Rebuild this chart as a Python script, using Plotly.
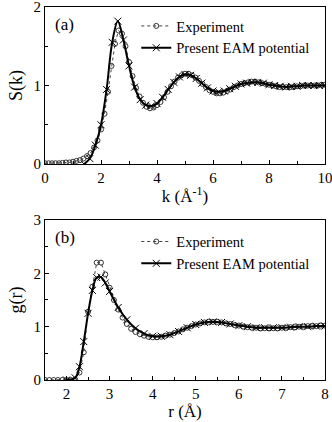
import plotly.graph_objects as go

# ---- (a) structure factor S(k) ----
k_exp = [0.0, 0.125, 0.25, 0.375, 0.5, 0.625, 0.75, 0.875, 1.0, 1.125, 1.25, 1.375,
         1.5, 1.625, 1.75, 1.875, 2.0, 2.125, 2.25, 2.375, 2.5, 2.625, 2.75, 2.875,
         3.0, 3.125, 3.25, 3.375, 3.5, 3.625, 3.75, 3.875, 4.0, 4.125, 4.25, 4.375,
         4.5, 4.625, 4.75, 4.875, 5.0, 5.125, 5.25, 5.375, 5.5, 5.625, 5.75, 5.875,
         6.0, 6.125, 6.25, 6.375, 6.5, 6.625, 6.75, 6.875, 7.0, 7.125, 7.25, 7.375,
         7.5, 7.625, 7.75, 7.875, 8.0, 8.125, 8.25, 8.375, 8.5, 8.625, 8.75, 8.875,
         9.0, 9.125, 9.25, 9.375, 9.5, 9.625, 9.75, 9.875, 10.0]
s_exp = [0.01, 0.01, 0.01, 0.01, 0.01, 0.015, 0.02, 0.02, 0.03, 0.04, 0.05, 0.07,
         0.10, 0.14, 0.21, 0.30, 0.44, 0.64, 0.92, 1.25, 1.53, 1.70, 1.66, 1.50,
         1.30, 1.12, 0.97, 0.86, 0.78, 0.73, 0.71, 0.72, 0.75, 0.79, 0.85, 0.92,
         0.99, 1.05, 1.10, 1.13, 1.15, 1.15, 1.13, 1.10, 1.06, 1.02, 0.98, 0.94,
         0.92, 0.90, 0.90, 0.91, 0.93, 0.95, 0.98, 1.00, 1.02, 1.03, 1.04, 1.05,
         1.05, 1.04, 1.03, 1.02, 1.01, 1.00, 0.99, 0.98, 0.98, 0.98, 0.98, 0.98,
         0.99, 0.99, 1.00, 1.00, 1.00, 1.00, 1.00, 1.01, 1.01]

k_eam = [1.4, 1.6, 1.8, 2.0, 2.2, 2.4, 2.6, 2.8, 3.0, 3.2, 3.4, 3.6, 3.8, 4.0,
         4.2, 4.4, 4.6, 4.8, 5.0, 5.2, 5.4, 5.6, 5.8, 6.0, 6.2, 6.4, 6.6, 6.8,
         7.0, 7.2, 7.4, 7.6, 7.8, 8.0, 8.2, 8.4, 8.6, 8.8, 9.0, 9.2, 9.4, 9.6,
         9.8, 10.0]
s_eam = [0.0, 0.07, 0.24, 0.50, 0.95, 1.55, 1.82, 1.58, 1.25, 0.98, 0.82, 0.75,
         0.74, 0.77, 0.85, 0.95, 1.04, 1.11, 1.14, 1.13, 1.09, 1.03, 0.97, 0.93,
         0.92, 0.93, 0.96, 0.99, 1.02, 1.03, 1.04, 1.04, 1.03, 1.01, 1.00, 0.99,
         0.98, 0.99, 0.99, 1.00, 1.00, 1.00, 1.00, 1.00]

# ---- (b) pair correlation g(r) ----
r_exp = [1.5, 1.6, 1.7, 1.8, 1.9, 2.0, 2.1, 2.2, 2.3, 2.4, 2.5, 2.6, 2.7, 2.8,
         2.9, 3.0, 3.1, 3.2, 3.3, 3.4, 3.5, 3.6, 3.7, 3.8, 3.9, 4.0, 4.1, 4.2,
         4.3, 4.4, 4.5, 4.6, 4.7, 4.8, 4.9, 5.0, 5.1, 5.2, 5.3, 5.4, 5.5, 5.6,
         5.7, 5.8, 5.9, 6.0, 6.1, 6.2, 6.3, 6.4, 6.5, 6.6, 6.7, 6.8, 6.9, 7.0,
         7.1, 7.2, 7.3, 7.4, 7.5, 7.6, 7.7, 7.8, 7.9, 8.0]
g_exp = [0.0, 0.0, 0.0, 0.0, 0.0, 0.0, 0.0, 0.01, 0.14, 0.52, 1.28, 1.75, 2.20, 2.20,
         1.98, 1.73, 1.50, 1.32, 1.17, 1.05, 0.96, 0.90, 0.86, 0.83, 0.81, 0.80, 0.80, 0.81,
         0.83, 0.85, 0.88, 0.91, 0.95, 0.98, 1.01, 1.04, 1.06, 1.08, 1.09, 1.09, 1.09, 1.08,
         1.06, 1.05, 1.03, 1.02, 1.00, 0.99, 0.98, 0.98, 0.97, 0.97, 0.97, 0.97, 0.97, 0.98,
         0.98, 0.99, 0.99, 1.00, 1.00, 1.01, 1.01, 1.01, 1.02, 1.02]

r_eam = [2.0, 2.2, 2.3, 2.4, 2.5, 2.6, 2.7, 2.8, 2.9, 3.0, 3.2, 3.4, 3.6, 3.8,
         4.0, 4.2, 4.4, 4.6, 4.8, 5.0, 5.2, 5.4, 5.6, 5.8, 6.0, 6.2, 6.4, 6.6,
         6.8, 7.0, 7.2, 7.4, 7.6, 7.8, 8.0]
g_eam = [0.0, 0.04, 0.25, 0.72, 1.25, 1.68, 1.92, 1.93, 1.82, 1.66, 1.36, 1.13,
         0.97, 0.87, 0.82, 0.82, 0.85, 0.91, 0.98, 1.04, 1.08, 1.09, 1.08, 1.05,
         1.02, 1.00, 0.98, 0.98, 0.98, 0.98, 0.99, 1.00, 1.00, 1.01, 1.01]

FONT = "Liberation Serif"

exp_style = dict(mode="lines+markers", line=dict(color="#444", width=1, dash="dot"),
                 marker=dict(symbol="circle-open", size=5, color="#333",
                             line=dict(width=1)))
eam_style = dict(mode="lines+markers", line=dict(color="black", width=2, shape="spline"),
                 marker=dict(symbol="x-thin-open", size=7, color="black",
                             line=dict(width=1, color="black")))

fig = go.Figure()
fig.add_trace(go.Scatter(x=k_exp, y=s_exp, name="Experiment", xaxis="x", yaxis="y",
                         legend="legend", **exp_style))
fig.add_trace(go.Scatter(x=k_eam, y=s_eam, name="Present EAM potential", xaxis="x",
                         yaxis="y", legend="legend", **eam_style))
fig.add_trace(go.Scatter(x=r_exp, y=g_exp, name="Experiment", xaxis="x2", yaxis="y2",
                         legend="legend2", **exp_style))
fig.add_trace(go.Scatter(x=r_eam, y=g_eam, name="Present EAM potential", xaxis="x2",
                         yaxis="y2", legend="legend2", **eam_style))

axis_common = dict(showline=True, linecolor="black", linewidth=1, mirror=True,
                   ticks="inside", ticklen=4, tickcolor="black", showgrid=False,
                   zeroline=False, automargin=False, ticklabeloverflow="allow",
                   tickfont=dict(family=FONT, size=15, color="black"))
minor = dict(ticks="inside", ticklen=3, tickcolor="black", showgrid=False)

legend_common = dict(x=0.326, xanchor="left", bgcolor="rgba(0,0,0,0)",
                     font=dict(family=FONT, size=14.5, color="black"), tracegroupgap=0,
                     itemwidth=30)

fig.update_layout(
    width=332, height=422,
    margin=dict(l=45, r=7, t=7, b=42),
    paper_bgcolor="white", plot_bgcolor="white",
    font=dict(family=FONT, color="black"),
    xaxis=dict(domain=[0, 1], anchor="y", range=[0, 10], dtick=2,
               minor=dict(dtick=1, **minor),
               title=dict(text="k (Å<sup>-1</sup>)", standoff=5,
                          font=dict(family=FONT, size=17)),
               **axis_common),
    yaxis=dict(domain=[0.579, 1], anchor="x", range=[0, 2], dtick=1,
               minor=dict(dtick=0.5, **minor),
               title=dict(text="S(k)", standoff=6, font=dict(family=FONT, size=18)),
               **axis_common),
    xaxis2=dict(domain=[0, 1], anchor="y2", range=[1.5, 8], dtick=1, tick0=0,
                minor=dict(dtick=0.5, **minor),
                title=dict(text="r (Å)", standoff=4, font=dict(family=FONT, size=17)),
                **axis_common),
    yaxis2=dict(domain=[0, 0.429], anchor="x2", range=[0, 3], dtick=1,
                minor=dict(dtick=0.5, **minor),
                title=dict(text="g(r)", standoff=6, font=dict(family=FONT, size=18)),
                **axis_common),
    legend=dict(y=0.992, yanchor="top", **legend_common),
    legend2=dict(y=0.414, yanchor="top", **legend_common),
    annotations=[
        dict(text="(a)", x=0.03, y=0.985, xref="paper", yref="paper", xanchor="left",
             yanchor="top", showarrow=False, font=dict(family=FONT, size=17, color="black")),
        dict(text="(b)", x=0.03, y=0.412, xref="paper", yref="paper", xanchor="left",
             yanchor="top", showarrow=False, font=dict(family=FONT, size=17, color="black")),
    ],
)

# page body has a default 8px margin; drop it so the figure fills the window
fig.write_html("out.html", config={"displayModeBar": False},
               post_script="document.body.style.margin='0px';")
